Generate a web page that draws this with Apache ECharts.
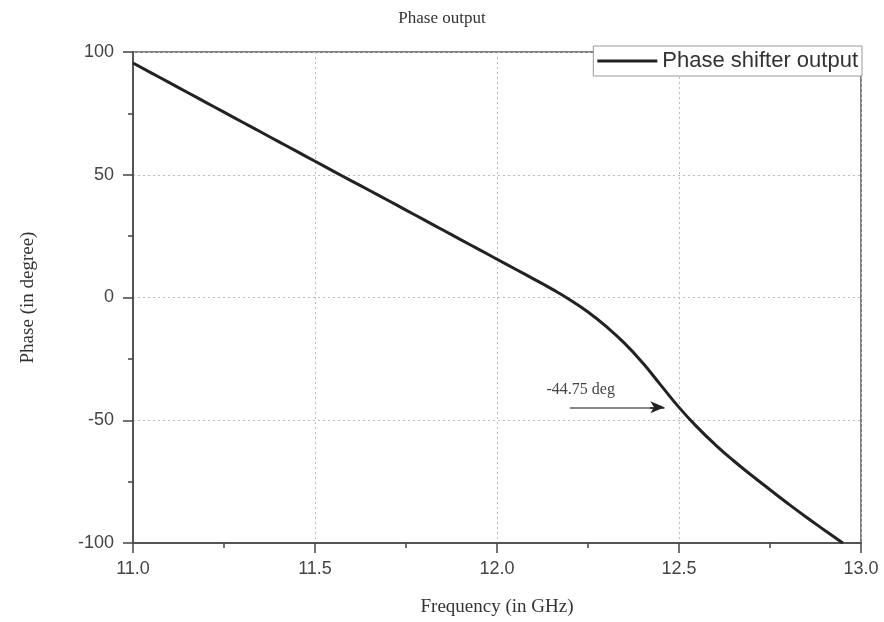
<!DOCTYPE html>
<html>
<head>
<meta charset="utf-8">
<script src="https://cdn.jsdelivr.net/npm/echarts@6/dist/echarts.min.js"></script>
<style>
  html, body { margin: 0; padding: 0; background: #fff; }
  #main { width: 884px; height: 622px; }
</style>
</head>
<body>
<div id="main"></div>
<script>
// frequency in GHz, phase in degree
const freq = [11.0, 11.05, 11.1, 11.15, 11.2, 11.25, 11.3, 11.35, 11.4, 11.45,
  11.5, 11.55, 11.6, 11.65, 11.7, 11.75, 11.8, 11.85, 11.9, 11.95,
  12.0, 12.05, 12.1, 12.15, 12.2, 12.25, 12.3, 12.35, 12.4, 12.45,
  12.5, 12.55, 12.6, 12.65, 12.7, 12.75, 12.8, 12.85, 12.9, 12.95];
const phase = [95.5, 91.5, 87.5, 83.5, 79.5, 75.5, 71.5, 67.5, 63.5, 59.5,
  55.5, 51.5, 47.5, 43.6, 39.6, 35.6, 31.6, 27.6, 23.6, 19.6,
  15.6, 11.6, 7.6, 3.5, -0.9, -5.9, -11.8, -18.6, -26.6, -35.7,
  -44.75, -52.8, -60.0, -66.5, -72.5, -78.3, -84.0, -89.5, -94.8, -100.0];
const markPhase = -44.75;

const serif = '"Liberation Serif", "DejaVu Serif", serif';
const sans = '"Liberation Sans", Arial, sans-serif';

const chart = echarts.init(document.getElementById('main'));
chart.setOption({
  animation: false,
  title: {
    text: 'Phase output',
    left: 'center',
    top: 5,
    textStyle: { fontFamily: serif, fontWeight: 'normal', fontSize: 17, color: '#333' },
  },
  legend: {
    right: 22,
    top: 46,
    icon: 'rect',
    itemWidth: 60,
    itemHeight: 3,
    padding: [4, 4, 4, 4],
    borderColor: '#999',
    borderWidth: 1,
    backgroundColor: '#fff',
    textStyle: { fontFamily: sans, fontSize: 22, color: '#333' },
  },
  grid: {
    left: 133,
    right: 23,
    top: 52,
    bottom: 78,
    show: true,
    borderColor: '#555',
    borderWidth: 1.5,
  },
  xAxis: {
    type: 'value',
    min: 11,
    max: 13,
    interval: 0.5,
    name: 'Frequency (in GHz)',
    nameLocation: 'middle',
    nameGap: 55,
    nameTextStyle: { fontFamily: serif, fontSize: 19, color: '#333' },
    axisLine: { onZero: false, lineStyle: { color: '#555', width: 2 } },
    axisTick: { inside: false, length: 10, lineStyle: { color: '#444', width: 1.5 } },
    minorTick: { show: true, splitNumber: 2, length: 5, lineStyle: { color: '#444', width: 1.5 } },
    axisLabel: {
      fontFamily: sans, fontSize: 18, color: '#444', margin: 17,
      formatter: (v) => v.toFixed(1),
    },
    splitLine: { show: true, lineStyle: { color: '#bbb', type: [2, 3], width: 1 } },
  },
  yAxis: {
    type: 'value',
    min: -100,
    max: 100,
    interval: 50,
    name: 'Phase (in degree)',
    nameLocation: 'middle',
    nameGap: 95,
    nameTextStyle: { fontFamily: serif, fontSize: 19, color: '#333' },
    axisLine: { show: true, onZero: false, lineStyle: { color: '#555', width: 2 } },
    axisTick: { show: true, inside: false, length: 10, lineStyle: { color: '#444', width: 1.5 } },
    minorTick: { show: true, splitNumber: 2, length: 5, lineStyle: { color: '#444', width: 1.5 } },
    axisLabel: { fontFamily: sans, fontSize: 18, color: '#444', margin: 19 },
    splitLine: { show: true, lineStyle: { color: '#bbb', type: [2, 3], width: 1 } },
  },
  series: [{
    name: 'Phase shifter output',
    type: 'line',
    data: freq.map((f, i) => [f, phase[i]]),
    smooth: 0.5,
    symbol: 'none',
    lineStyle: { color: '#222', width: 3 },
    itemStyle: { color: '#222' },
    markLine: {
      silent: true,
      symbol: ['none', 'arrow'],
      symbolSize: [9, 14],
      label: { show: false },
      data: [
        [
          { coord: [12.2, markPhase], symbol: 'none', lineStyle: { color: '#888', type: 'solid', width: 2 } },
          { coord: [12.43, markPhase], symbol: 'none' },
        ],
        [
          { coord: [12.42, markPhase], lineStyle: { color: '#222', type: 'solid', width: 1.5 } },
          { coord: [12.46, markPhase] },
        ],
      ],
    },
    markPoint: {
      silent: true,
      symbol: 'circle',
      symbolSize: 0,
      label: {
        show: true,
        formatter: markPhase + ' deg',
        fontFamily: serif,
        fontSize: 16,
        color: '#444',
      },
      data: [{ coord: [12.23, -37.5] }],
    },
  }],
});
</script>
</body>
</html>
